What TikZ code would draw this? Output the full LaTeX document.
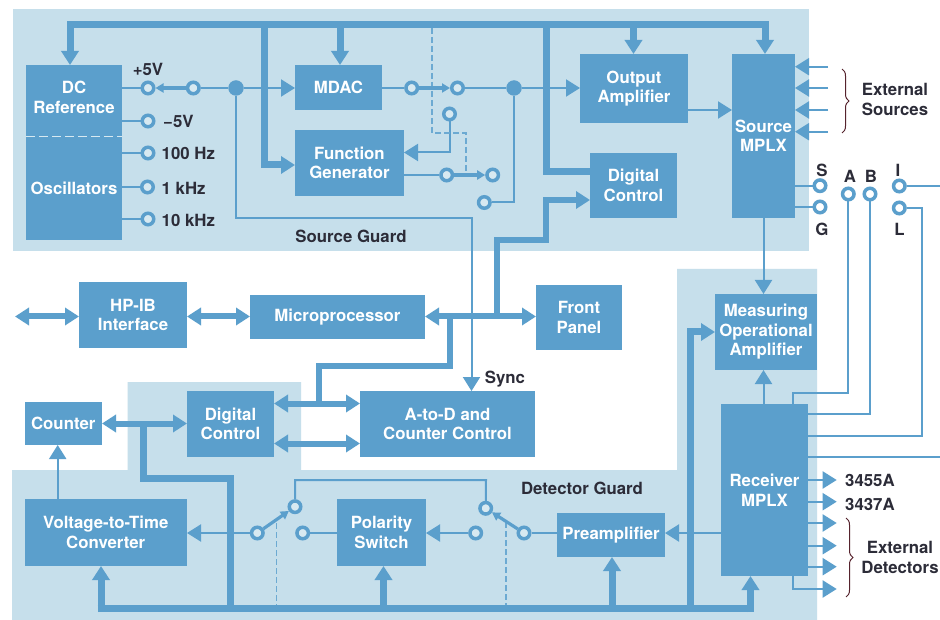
\documentclass[tikz,border=0pt]{standalone}
\usepackage{fontspec}
\setmainfont{TeX Gyre Heros}
\usetikzlibrary{arrows.meta,decorations.pathreplacing,calc}
\definecolor{blu}{HTML}{5B9FCC}
\definecolor{pan}{HTML}{C6DFEB}
\definecolor{ink}{HTML}{2C2C38}
\definecolor{dashc}{HTML}{6CAAD2}
\tikzset{
  big/.tip={Triangle[length=14pt,width=17pt]},
  lil/.tip={Triangle[length=8pt,width=9pt]},
  panel/.style={fill=pan,draw=none},
  blk/.style={fill=blu,draw=none,inner sep=0pt,outer sep=0pt,text=white,align=center,
    font=\fontsize{16.8}{19.5}\selectfont\bfseries},
  inbox/.style={inner sep=0pt,text=white,align=center,font=\fontsize{16.8}{19.5}\selectfont\bfseries},
  lab/.style={inner sep=0pt,text=ink,align=center,font=\fontsize{16.8}{19.5}\selectfont\bfseries},
  wire/.style={draw=blu,line width=2pt,line join=miter},
  bus/.style={draw=blu,line width=7pt,line join=miter},
  mbus/.style={draw=blu,line width=6pt,line join=miter},
  arm/.style={draw=blu,line width=3.2pt},
  sw/.style={circle,draw=blu,line width=3.5pt,fill=#1,minimum size=11.5pt,inner sep=0pt},
  sw/.default=pan!70!white,
  dot/.style={circle,fill=blu,draw=none,minimum size=15.5pt,inner sep=0pt},
  ganged/.style={draw=dashc,line width=1.3pt,dash pattern=on 6pt off 3pt},
  brc/.style={draw=ink!80!red,line width=1pt,decorate,decoration={brace,amplitude=7pt}},
}
\newcommand\blk[6]{%
  \pgfmathsetmacro\bw{#4-#2}\pgfmathsetmacro\bh{#5-#3}%
  \pgfmathsetmacro\bx{(#2+#4)/2}\pgfmathsetmacro\by{(#3+#5)/2}%
  \node[blk,minimum width=\bw pt,minimum height=\bh pt] (#1) at (\bx,\by) {#6};}
\begin{document}
\begin{tikzpicture}[x=1pt,y=-1pt]
\useasboundingbox (0,0) rectangle (940,620);
\fill[white] (0,0) rectangle (940,620);
% guard panels
\fill[panel] (13,9) rectangle (809,251);
\fill[panel] (12,470) -- (127.5,470) -- (127.5,382) -- (301,382) -- (301,470) -- (677,470)
  -- (677,269) -- (817,269) -- (817,620) -- (12,620) -- cycle;
% blocks
\blk{dc}{26}{65}{122}{137}{}
\blk{osc}{26}{137}{122}{240}{}
\blk{mdac}{295}{65}{382}{110}{MDAC}
\blk{fgen}{295}{130}{404}{196}{Function\\Generator}
\blk{oamp}{580}{54}{688}{123}{Output\\Amplifier}
\blk{smplx}{732}{54}{795}{218}{Source\\MPLX}
\blk{dctop}{590}{153}{677}{218}{Digital\\Control}
\blk{hpib}{79}{282}{187}{348}{HP-IB\\Interface}
\blk{micro}{250}{295}{425}{339}{Microprocessor}
\blk{front}{536}{285}{622}{350}{Front\\Panel}
\blk{meas}{715}{294}{817}{370}{Measuring\\Operational\\Amplifier}
\blk{count}{24.5}{402}{102}{445}{Counter}
\blk{dclow}{187}{391}{274}{457}{Digital\\Control}
\blk{atod}{360}{391}{535}{457}{A-to-D and\\Counter Control}
\blk{vtot}{24.5}{499}{187}{566}{Voltage-to-Time\\Converter}
\blk{polar}{337}{499}{426}{566}{Polarity\\Switch}
\blk{pre}{557}{513}{665}{557}{Preamplifier}
\blk{rmplx}{721}{404}{808}{576}{Receiver\\MPLX}
\node[inbox] (dctxt) at (74,97.5) {DC\\Reference};
\node[inbox] (osctxt) at (74,188) {Oscillators};
\draw[draw=pan!70!white,line width=1pt,dash pattern=on 9pt off 4pt] (dc.south west) -- (dc.south east);
% switch contacts and junctions
\node[sw] (p5) at (148,88) {};
\node[sw] (p5b) at (193.3,88) {};
\node[sw] (m5) at (148,121) {};
\node[sw] (h100) at (148,153) {};
\node[sw] (k1) at (147.5,187) {};
\node[sw] (k10) at (148,219) {};
\node[dot] (j1) at (236,88) {};
\node[sw] (a1) at (411.7,88) {};
\node[sw] (a2) at (457.5,88) {};
\node[dot] (j2) at (514,88) {};
\node[sw] (b1) at (449.5,114) {};
\node[sw] (b2) at (446.7,175) {};
\node[sw] (b3) at (492.7,175) {};
\node[sw] (b4) at (484.3,202.5) {};
\node[sw=white] (tS) at (820,185.7) {};
\node[sw=white] (tG) at (820,207) {};
\node[sw=white] (tA) at (848.3,194) {};
\node[sw=white] (tB) at (870,194) {};
\node[sw=white] (tI) at (899.3,186) {};
\node[sw=white] (tL) at (899.3,208) {};
\node[sw] (c1) at (257.3,533) {};
\node[sw] (c2) at (295,506.7) {};
\node[sw] (c3) at (302.7,533) {};
\node[sw] (c4) at (475.7,533) {};
\node[sw] (c5) at (485.7,508.3) {};
\node[sw] (c6) at (524,533) {};
% free ends and bends
\coordinate (topbus) at (70,24.5);
\coordinate (topbusR) at (765,24.5);
\coordinate (bmd) at (340,24.5);
\coordinate (boa) at (633.5,24.5);
\coordinate (bfg) at (264.5,24.5);
\coordinate (bdc) at (546.5,24.5);
\coordinate (mainbus) at (425,316.5);
\coordinate (hpleft) at (15,316.5);
\coordinate (brA) at (450,316.5);
\coordinate (brB) at (497,316.5);
\coordinate (dbus) at (143.5,423.5);
\coordinate (botL) at (101,612);
\coordinate (botR) at (750.5,612);
\coordinate (botP) at (383.5,608.5);
\coordinate (botQ) at (612,608.5);
\coordinate (botM) at (690.5,608.5);
\coordinate (botD) at (230,608.5);
\coordinate (gA1) at (432,28);
\coordinate (gB1) at (276.7,523);
\coordinate (gC1) at (506,522);
% thin wires
\draw[wire] (p5 -| dc.east) -- (p5);
\draw[wire] (p5b) -- (j1);
\draw[wire,-big] (j1) -- (j1 -| mdac.west);
\draw[wire,-big] (j1) |- (471.5,218.3) -- (471.5,391);
\draw[wire] (m5 -| dc.east) -- (m5);
\draw[wire] (h100 -| osc.east) -- (h100);
\draw[wire] (k1 -| osc.east) -- (k1);
\draw[wire] (k10 -| osc.east) -- (k10);
\draw[wire] (a1 -| mdac.east) -- (a1);
\draw[wire] (a2) -- (j2);
\draw[wire,-big] (j2) -- (j2 -| oamp.west);
\draw[wire,-big] (b1) |- (404,152.5);
\draw[wire] (b2 -| fgen.east) -- (b2);
\draw[wire] (b4) -| (j2);
\draw[wire,-big] (688,110) -- (732,110);
\foreach \yy in {66.7,88,110,131.7}{\draw[wire,-big] (828,\yy) -- (795,\yy);}
\draw[wire] (tS -| smplx.east) -- (tS);
\draw[wire] (tG -| smplx.east) -- (tG);
\draw[wire] (tI) -- (940,186);
\draw[wire] (tL) -- (921.7,208) -- (921.7,436) -- (808,436);
\draw[wire] (tA) -- (848.3,392.7) -- (793.3,392.7) -- (793.3,404);
\draw[wire] (tB) -- (870,414) -- (808,414);
\draw[wire] (808,457) -- (940,457);
\draw[wire,-big] (763.5,218) -- (763.5,294);
\draw[wire,-big] (763.5,404) -- (763.5,370);
\draw[wire,-big] (808,480) -- (836.7,480);
\draw[wire,-big] (808,501.7) -- (836.7,501.7);
\draw[wire,-big] (808,523) -- (836.7,523);
\draw[wire,-big] (808,545.7) -- (836.7,545.7);
\draw[wire,-big] (808,566.7) -- (836.7,566.7);
\draw[wire,-big] (793.3,576) -- (793.3,589) -- (836.7,589);
\draw[wire,-big] (57.7,499) -- (57.7,445);
\draw[wire,-big] (c1) -- (c1 -| vtot.east);
\draw[wire] (c3) -- (c3 -| polar.west);
\draw[wire,-big] (c4) -- (c4 -| polar.east);
\draw[wire] (c6) -- (c6 -| pre.west);
\draw[wire] (c2) |- (486,480) -- (c5);
% ganged switch links
\draw[ganged] (gA1) -- (432,133) -- (466,133) -- (466,175);
\draw[ganged] (gB1) -- (276.7,605);
\draw[ganged] (gC1) -- (506,605);
% switch arms
\draw[arm,-lil] (p5b) -- (p5);
\draw[arm,-lil] (a1) -- (a2);
\draw[arm,-lil] (b2) -- (b3);
\draw[arm,-lil] (c1) -- (c2);
\draw[arm,-lil] (c6) -- (c5);
% upper control bus
\draw[bus,big-big] (topbus |- dc.north) -- (topbus) -- (topbusR) -- (topbusR |- smplx.north);
\draw[bus,-big] (bmd) -- (bmd |- mdac.north);
\draw[bus,-big] (boa) -- (boa |- oamp.north);
\draw[bus,-big] (bfg) -- (264.5,165) -- (295,165);
\draw[bus] (bdc) -- (546.5,171.7) -- (590,171.7);
% processor bus
\draw[mbus,big-big] (hpleft) -- (hpleft -| hpib.west);
\draw[mbus,big-big] (hpib.east |- mainbus) -- (mainbus -| micro.west);
\draw[mbus,big-big] (mainbus) -- (mainbus -| front.west);
\draw[mbus,-big] (brB) -- (497,240.5) -- (546,240.5) -- (546,200) -- (590,200);
\draw[mbus] (brA) -- (450,366) -- (318.5,366) -- (318.5,403.5);
\draw[mbus,big-big] (274,403.5) -- (360,403.5);
\draw[mbus,big-big] (274,443.5) -- (360,443.5);
\draw[mbus,big-big] (102,423.5) -- (187,423.5);
% lower control bus
\draw[bus] (dbus) -- (143.5,478.5) -- (230,478.5) -- (botD);
\draw[bus] (97.5,608.5) -- (754,608.5);
\draw[bus,-big] (botR) -- (750.5,576);
\draw[bus,-big] (botL) -- (101,566);
\draw[bus,-big] (botP) -- (383.5,566);
\draw[bus,-big] (botQ) -- (612,557);
\draw[bus,-big] (botM) -- (690.5,332) -- (715,332);
\draw[wire,-big] (721,533) -- (665,533);
% labels
\node[lab] (lp5) at (148,69.5) {+5V};
\node[lab,anchor=west] (lm5) at (163,121) {−5V};
\node[lab,anchor=west] (l100) at (161.5,153) {100 Hz};
\node[lab,anchor=west] (l1k) at (161.5,188) {1 kHz};
\node[lab,anchor=west] (l10k) at (161.5,220) {10 kHz};
\node[lab] (lsg) at (351,236.5) {Source Guard};
\node[lab] (ldg) at (582,488) {Detector Guard};
\node[lab] (lsync) at (505,379) {Sync};
\node[lab] (lext) at (895,99.5) {External\\Sources};
\node[lab] (lS) at (822,170) {S};
\node[lab] (lG) at (822,229) {G};
\node[lab] (lA) at (850,176) {A};
\node[lab] (lB) at (871,176) {B};
\node[lab] (lI) at (898,170) {I};
\node[lab] (lL) at (899.5,229) {L};
\node[lab,anchor=west] (l55) at (845,480.5) {3455A};
\node[lab,anchor=west] (l37) at (845,504) {3437A};
\node[lab] (ldet) at (900,557.5) {External\\Detectors};
\draw[brc] (842,69) -- (842,133);
\draw[brc] (846,518) -- (846,597);
\end{tikzpicture}
\end{document}
